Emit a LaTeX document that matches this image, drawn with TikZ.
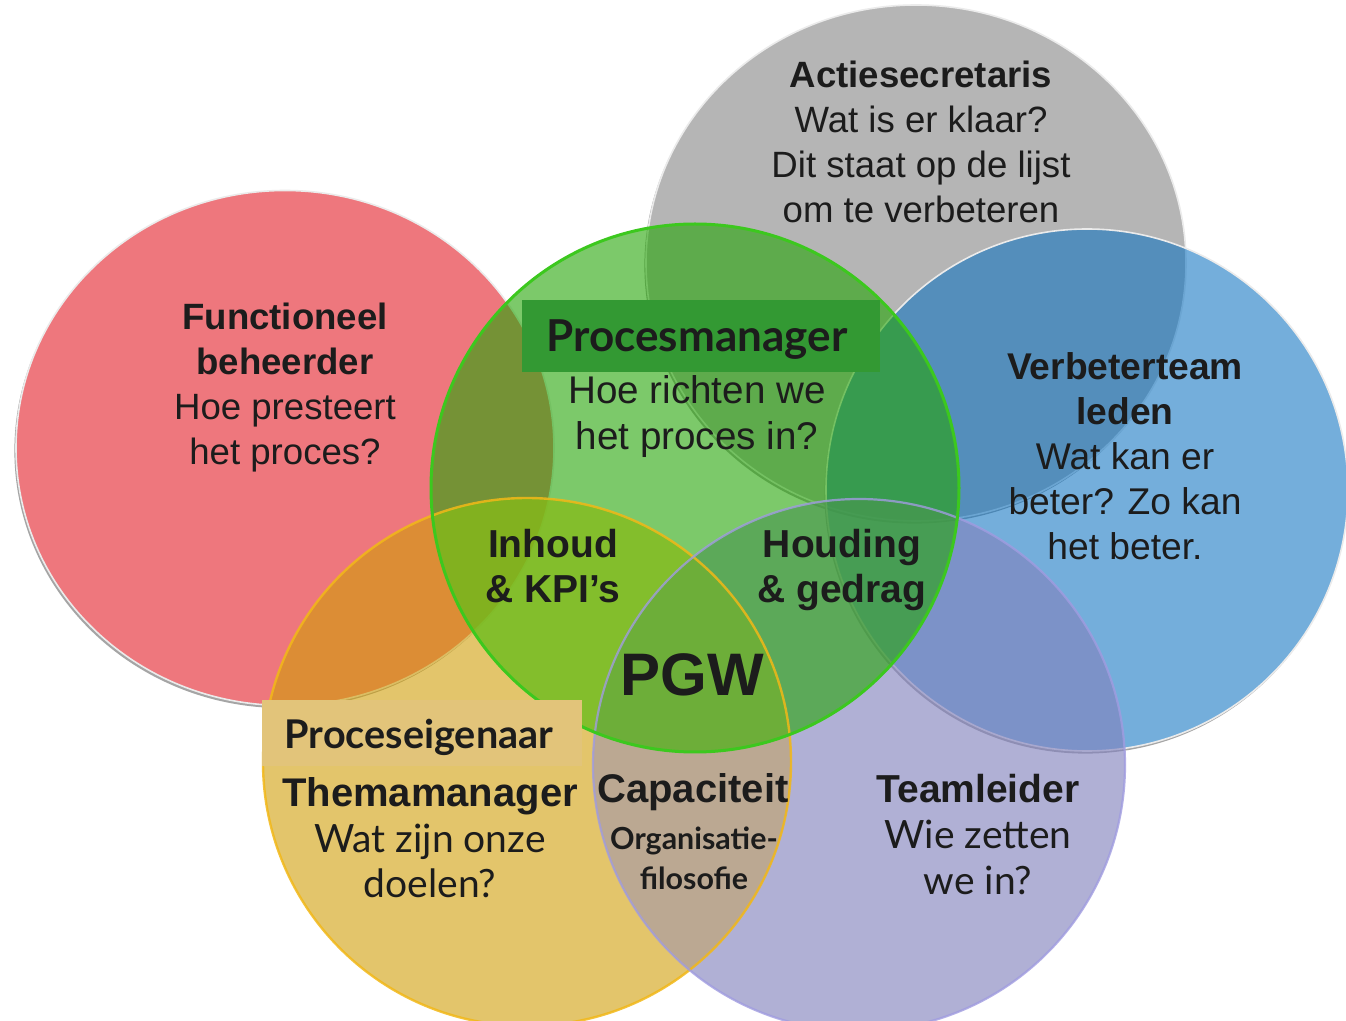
\documentclass[tikz,border=0pt]{standalone}
\usepackage{fontspec}
\setmainfont{Liberation Sans}
\newfontfamily\gill{Lato}
\definecolor{cRed}{RGB}{238,119,125}
\definecolor{cGray}{RGB}{181,181,181}
\definecolor{cBlue}{RGB}{11,113,192}
\definecolor{cGreen}{RGB}{37,165,7}
\definecolor{cYellow}{RGB}{209,158,4}
\definecolor{cPurple}{RGB}{130,130,190}
\definecolor{cTaupe}{RGB}{187,168,146}
\definecolor{cTint}{RGB}{160,210,40}
\definecolor{cGreenEdge}{RGB}{60,200,30}
\definecolor{cYellowEdge}{RGB}{242,184,24}
\definecolor{cPurpleEdge}{RGB}{160,156,224}
\definecolor{cPMbox}{RGB}{51,153,51}
\definecolor{cPEbox}{RGB}{226,196,122}
\definecolor{cTxt}{RGB}{28,28,28}
\definecolor{cShadow}{RGB}{165,165,165}
\begin{document}
\begin{tikzpicture}[x=0.5pt,y=-0.5pt,
  redR/.style={x radius=134.5pt,y radius=128.75pt},
  grayR/.style={x radius=135pt,y radius=129pt},
  blueR/.style={x radius=130.5pt,y radius=130.5pt},
  purR/.style={radius=133pt},
  yelR/.style={radius=132pt},
  grnR/.style={radius=132pt},
  shoff/.style={xshift=-0.8pt,yshift=-1.3pt},
  txt/.style={align=center,text=cTxt,inner sep=0pt,text depth=0pt},
  rim/.style={draw=white!92!black,line width=0.8pt}]
\useasboundingbox[fill=white] (0,0) rectangle (1346,1021);
\coordinate (cG) at (916,263);
\coordinate (cR) at (285,448);
\coordinate (cB) at (1087,490);
\coordinate (cP) at (859,765);
\coordinate (cY) at (527,762);
\coordinate (cN) at (695,488);
% gray circle
\begin{scope}[even odd rule]
  \clip (-20,-20) rectangle (1400,1100) (cG) ellipse[grayR];
  \fill[cShadow] ([shoff]cG) ellipse[grayR];
\end{scope}
\path[fill=cGray,rim] (cG) ellipse[grayR];
% red circle
\begin{scope}[even odd rule]
  \clip (-20,-20) rectangle (1400,1100) (cR) ellipse[redR];
  \fill[cShadow] ([shoff]cR) ellipse[redR];
\end{scope}
\path[fill=cRed,rim] (cR) ellipse[redR];
% blue circle
\begin{scope}[even odd rule]
  \clip (-20,-20) rectangle (1400,1100) (cB) ellipse[blueR];
  \fill[cShadow] ([shoff]cB) ellipse[blueR];
\end{scope}
\path[fill=cBlue,fill opacity=0.57,rim] (cB) ellipse[blueR];
% purple and yellow
\fill[cPurple,fill opacity=0.63] (cP) circle[purR];
\fill[cYellow,fill opacity=0.59] (cY) circle[yelR];
\begin{scope}
  \clip (cY) circle[yelR];
  \fill[cTaupe] (cP) circle[purR];
\end{scope}
% green
\fill[cGreen,fill opacity=0.6] (cN) circle[grnR];
% lighter yellow-green where green covers yellow
\begin{scope}
  \clip (cY) circle[yelR];
  \clip (cN) circle[grnR];
  \fill[cTint,fill opacity=0.4,even odd rule] (-20,-20) rectangle (1400,1100) (cP) circle[purR];
  \fill[cTint,fill opacity=0.2] (cP) circle[purR];
\end{scope}
% outlines
\draw[cYellowEdge,line width=1.2pt,opacity=0.85] (cY) circle[yelR];
\draw[cPurpleEdge,line width=1.1pt,opacity=0.8] (cP) circle[purR];
\draw[cGreenEdge,line width=1.5pt] (cN) circle[grnR];
% boxes
\node[fill=cPMbox,minimum width=179pt,minimum height=36pt,inner sep=0pt] (pmbox) at (701,336) {};
\node[fill=cPEbox,minimum width=160pt,minimum height=33pt,inner sep=0pt] (pebox) at (422,733) {};
% texts
\node[txt,font=\fontsize{18.3}{22.5}\selectfont] (fb) at (285,384)
  {\textbf{Functioneel}\\\textbf{beheerder}\\Hoe presteert\\het proces?};
\node[txt,font=\fontsize{18.3}{22.5}\selectfont] (as) at (921,142)
  {\textbf{Actiesecretaris}\\Wat is er klaar?\\Dit staat op de lijst\\om te verbeteren};
\node[txt,font=\gill\bfseries\fontsize{22}{26}\selectfont] (pm) at (697,336) {Procesmanager};
\node[txt,font=\fontsize{19.3}{23}\selectfont] (hr) at (697,413) {Hoe richten we\\het proces in?};
\node[txt,font=\fontsize{18.6}{22.4}\selectfont] (vt) at (1125,456)
  {\textbf{Verbeterteam}\\\textbf{leden}\\Wat kan er\\beter? Zo kan\\het beter.};
\node[txt,font=\bfseries\fontsize{19.5}{22.5}\selectfont] (ik) at (553,566) {Inhoud\\\& KPI’s};
\node[txt,font=\bfseries\fontsize{19.5}{22.5}\selectfont] (hg) at (842,566) {Houding\\\& gedrag};
\node[txt,font=\bfseries\fontsize{30}{34}\selectfont] (pgw) at (692,675) {PGW};
\node[txt,font=\gill\bfseries\fontsize{19.8}{23}\selectfont] (pe) at (419,734) {Proceseigenaar};
\node[txt,font=\fontsize{19.5}{22.75}\selectfont] (tm) at (430,838)
  {{\bfseries\fontsize{20}{22.75}\selectfont Themamanager}\\{\gill Wat zijn onze}\\{\gill doelen?}};
\node[txt,font=\bfseries\fontsize{20}{24}\selectfont] (cap) at (693,788) {Capaciteit};
\node[txt,font=\gill\bfseries\fontsize{15.2}{20}\selectfont] (of) at (694,858) {Organisatie-\\filosofie};
\node[txt,font=\fontsize{19.5}{23}\selectfont] (tl) at (978,834)
  {{\bfseries Teamleider}\\{\gill Wie zetten}\\{\gill we in?}};
\end{tikzpicture}
\end{document}
